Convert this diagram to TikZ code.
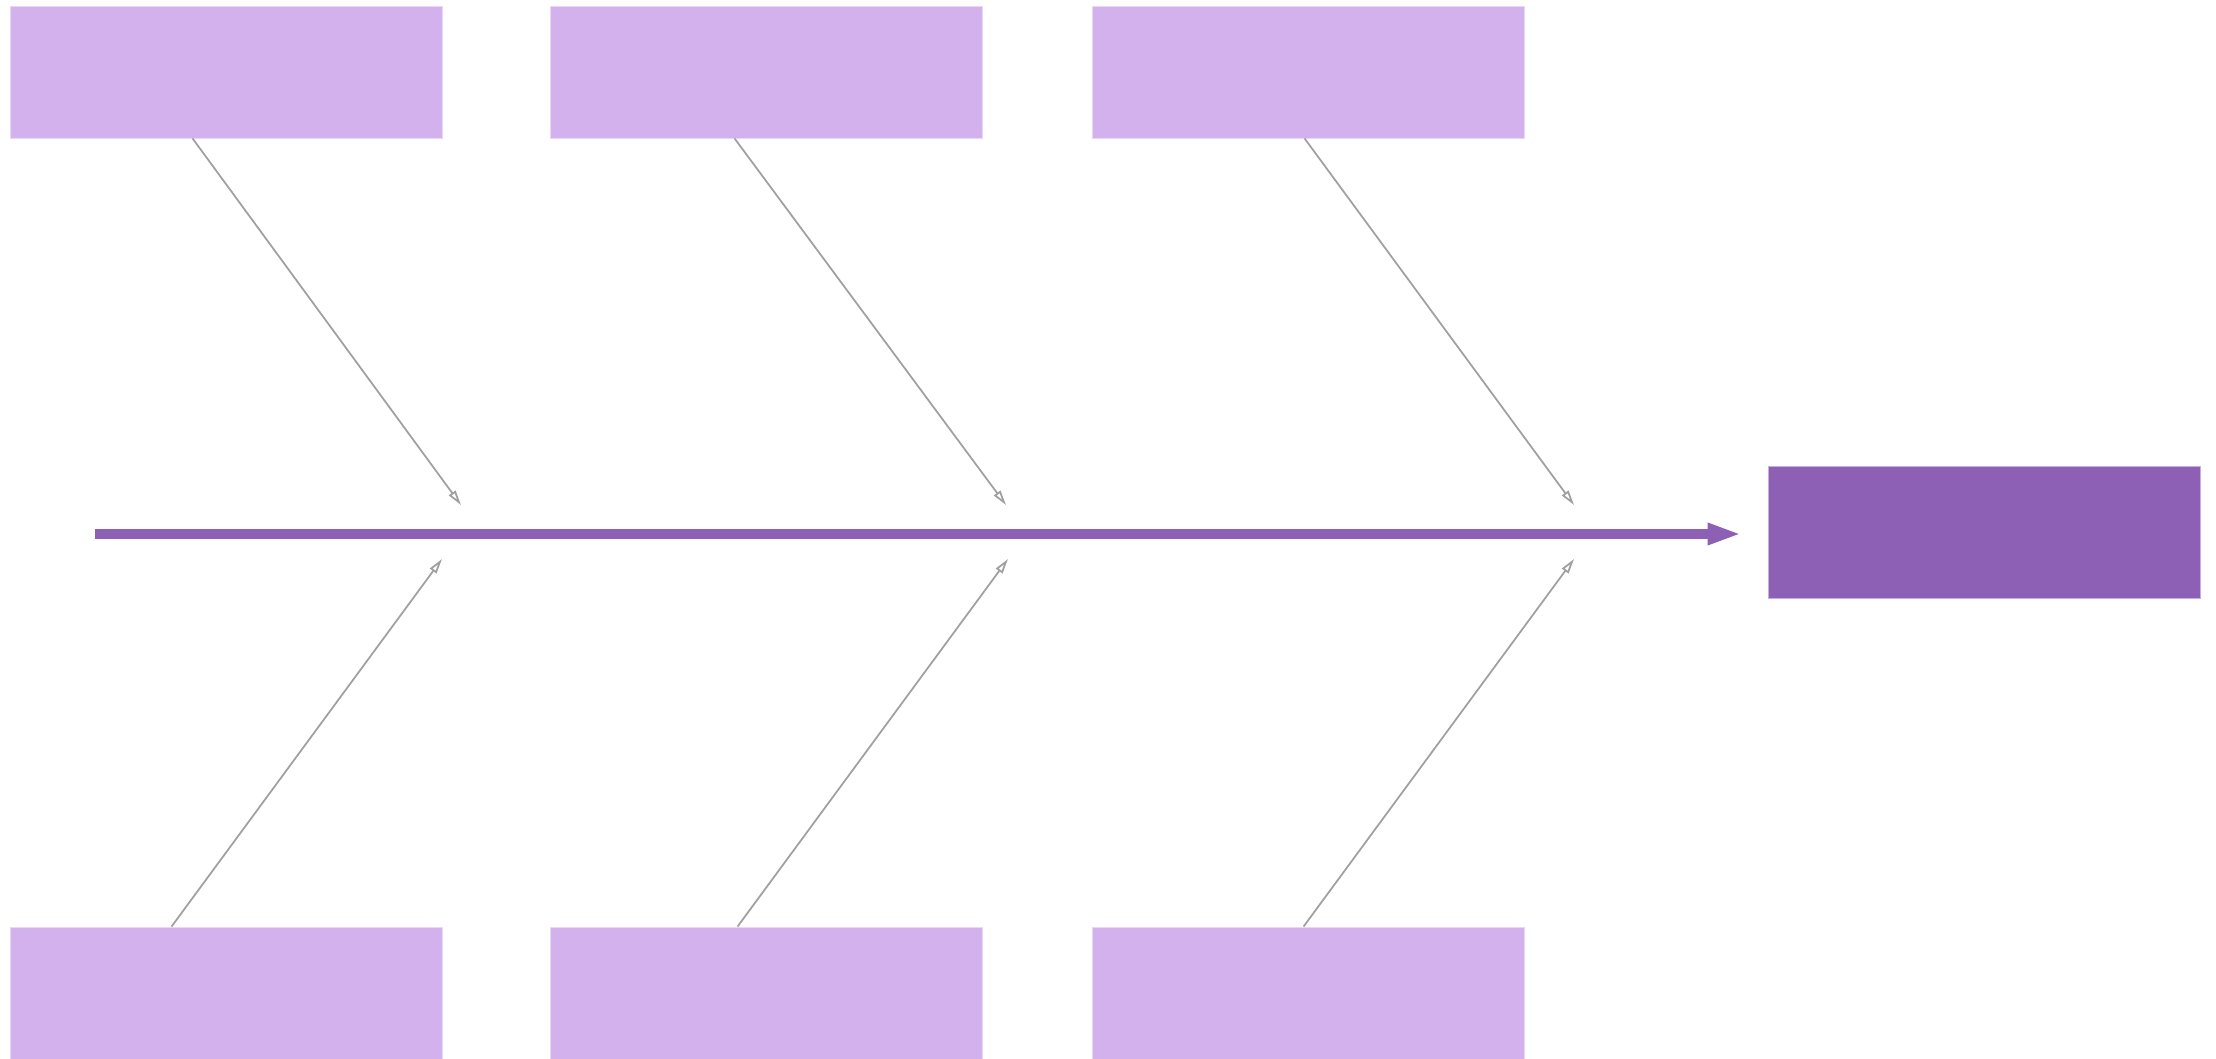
\documentclass[tikz,border=0pt]{standalone}
\usepackage{xcolor}
\usepackage{tikz}
\usetikzlibrary{arrows.meta}
\usetikzlibrary{positioning}

\definecolor{causefill}{HTML}{D3B1EC}
\definecolor{effectfill}{HTML}{8D5FB5}
\definecolor{bonegray}{HTML}{A0A0A0}

\begin{document}
\begin{tikzpicture}[
    cause/.style={rectangle, fill=causefill, draw=causefill!50!white, line width=0.25pt, minimum width=4.32cm, minimum height=1.32cm, inner sep=0pt},
    effect/.style={cause, fill=effectfill, draw=effectfill!50!white},
    bone/.style={draw=bonegray, line width=0.5pt, -{Triangle[open, length=0.15cm, width=0.08cm]}},
    spine/.style={draw=effectfill, line width=0.093cm, shorten >=0.26cm, -{Triangle[length=0.34cm, width=0.2cm]}},
  ]

  \useasboundingbox (0, 0) rectangle (22.16, 10.59);

  \node[cause] (c1) at (2.26, 9.87)  {};
  \node[cause] (c2) at (7.66, 9.87)  {};
  \node[cause] (c3) at (13.08, 9.87) {};
  \node[cause] (c4) at (2.26, 0.66)  {};
  \node[cause] (c5) at (7.66, 0.66)  {};
  \node[cause] (c6) at (13.08, 0.66) {};
  \node[effect] (eff) at (19.84, 5.27) {};

  \coordinate (tail) at (0.95, 5.25);
  \coordinate (t1) at (4.61, 5.54);
  \coordinate (t2) at (10.06, 5.54);
  \coordinate (t3) at (15.74, 5.54);
  \coordinate (b1) at (4.42, 5.00);
  \coordinate (b2) at (10.08, 5.00);
  \coordinate (b3) at (15.74, 5.00);

  \draw[spine] (tail) -- (tail -| eff.west);

  \draw[bone] ([xshift=1.83cm]c1.south west) -- (t1);
  \draw[bone] ([xshift=1.85cm]c2.south west) -- (t2);
  \draw[bone] ([xshift=2.13cm]c3.south west) -- (t3);
  \draw[bone] ([xshift=1.62cm]c4.north west) -- (b1);
  \draw[bone] ([xshift=1.88cm]c5.north west) -- (b2);
  \draw[bone] ([xshift=2.12cm]c6.north west) -- (b3);

\end{tikzpicture}
\end{document}
